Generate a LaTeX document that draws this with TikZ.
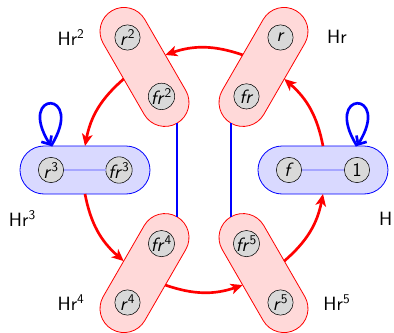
\documentclass[tikz,border=0pt]{standalone}
\usetikzlibrary{arrows.meta}

\begin{document}
\begin{tikzpicture}[x=0.75pt,y=0.75pt,every node/.style={outer sep=0pt},
  elem/.style={circle,draw=black,fill=gray!30,minimum size=19pt,inner sep=0pt,font=\sffamily\Large},
  redcoset/.style={draw=red,fill=red!15,semithick,minimum width=97.5pt,minimum height=36pt,rounded corners=18pt,inner sep=0pt},
  bluecoset/.style={draw=blue,fill=blue!15,semithick,minimum width=97.5pt,minimum height=36pt,rounded corners=18pt,inner sep=0pt},
  rotedge/.style={red,line width=2pt,-{Stealth[length=9pt,width=8pt,inset=2.5pt]},bend right=19},
  flipedge/.style={blue,line width=2pt},
  inneredge/.style={blue!35,line width=1.5pt},
  loopedge/.style={blue,line width=2pt,-{Straight Barb[length=5pt,width=9pt]},min distance=50pt},
  cosetname/.style={font=\sffamily\Large}]
\useasboundingbox (-204,-163) rectangle (190,170);

\node[bluecoset,rotate=0]   (H)   at (0:119)   {};
\node[redcoset,rotate=60]   (Hr)  at (60:119)  {};
\node[redcoset,rotate=120]  (Hr2) at (120:119) {};
\node[bluecoset,rotate=180] (Hr3) at (180:119) {};
\node[redcoset,rotate=240]  (Hr4) at (240:119) {};
\node[redcoset,rotate=300]  (Hr5) at (300:119) {};

\node[elem] (e)   at (0:153)   {1};
\node[elem] (f)   at (0:85)    {\textit{f}};
\node[elem] (r)   at (60:153)  {\textit{r}};
\node[elem] (fr)  at (60:85)   {\textit{fr}};
\node[elem] (r2)  at (120:153) {\textit{r}\textsuperscript{2}};
\node[elem] (fr2) at (120:85)  {\textit{fr}\textsuperscript{2}};
\node[elem] (r3)  at (180:153) {\textit{r}\textsuperscript{3}};
\node[elem] (fr3) at (180:85)  {\textit{fr}\textsuperscript{3}};
\node[elem] (r4)  at (240:153) {\textit{r}\textsuperscript{4}};
\node[elem] (fr4) at (240:85)  {\textit{fr}\textsuperscript{4}};
\node[elem] (r5)  at (300:153) {\textit{r}\textsuperscript{5}};
\node[elem] (fr5) at (300:85)  {\textit{fr}\textsuperscript{5}};

\draw[inneredge] (f) -- (e);
\draw[inneredge] (r3) -- (fr3);

\draw[flipedge] (Hr.west) -- (Hr5.west);
\draw[flipedge] (Hr2.west) -- (Hr4.west);

\draw[rotedge] (H.north) to (Hr.south);
\draw[rotedge] (Hr.north) to (Hr2.south);
\draw[rotedge] (Hr2.north) to (Hr3.south);
\draw[rotedge] (Hr3.north) to (Hr4.south);
\draw[rotedge] (Hr4.north) to (Hr5.south);
\draw[rotedge] (Hr5.north) to (H.south);

\coordinate (eloop) at (e |- H.north);
\coordinate (rloop) at (r3 |- Hr3.south);
\draw[loopedge] (eloop) to[out=122,in=58] (eloop);
\draw[loopedge] (rloop) to[out=58,in=122] (rloop);

\node[cosetname] (nH)   at (-15:188) {H};
\node[cosetname] (nHr)  at (45:188)  {Hr};
\node[cosetname] (nHr2) at (135:188) {Hr\textsuperscript{2}};
\node[cosetname] (nHr3) at (195:188) {Hr\textsuperscript{3}};
\node[cosetname] (nHr4) at (225:188) {Hr\textsuperscript{4}};
\node[cosetname] (nHr5) at (315:188) {Hr\textsuperscript{5}};
\end{tikzpicture}
\end{document}
